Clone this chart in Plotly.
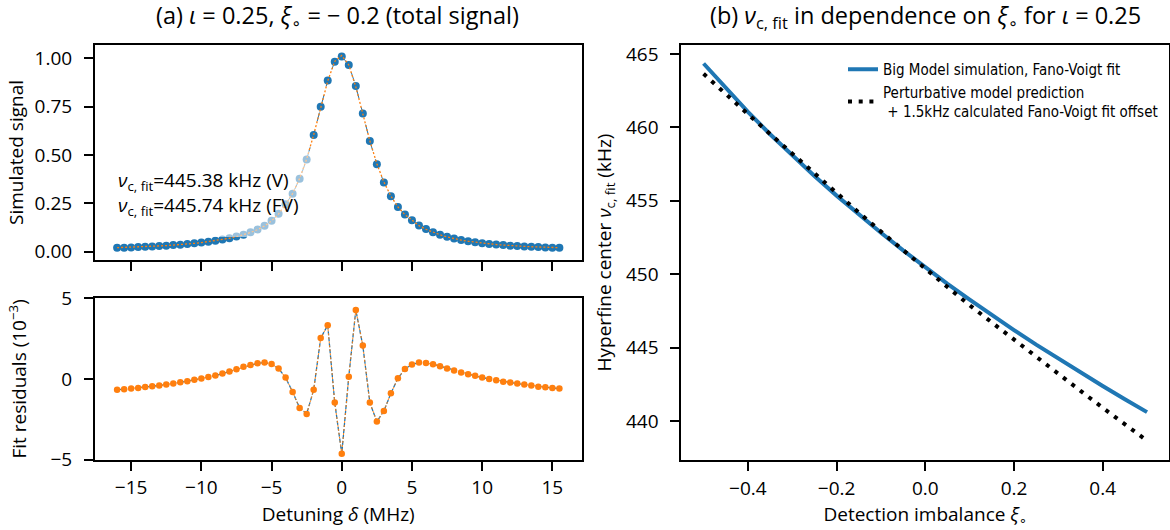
import plotly.graph_objects as go

# ---------------- data ----------------
detuning_MHz = [-16.0, -15.5, -15.0, -14.5, -14.0, -13.5, -13.0, -12.5, -12.0, -11.5,
                -11.0, -10.5, -10.0, -9.5, -9.0, -8.5, -8.0, -7.5, -7.0, -6.5,
                -6.0, -5.5, -5.0, -4.5, -4.0, -3.5, -3.0, -2.5, -2.0, -1.5,
                -1.0, -0.5, 0.0, 0.5, 1.0, 1.5, 2.0, 2.5, 3.0, 3.5,
                4.0, 4.5, 5.0, 5.5, 6.0, 6.5, 7.0, 7.5, 8.0, 8.5,
                9.0, 9.5, 10.0, 10.5, 11.0, 11.5, 12.0, 12.5, 13.0, 13.5,
                14.0, 14.5, 15.0, 15.5]

simulated_signal = [0.020, 0.021, 0.022, 0.024, 0.025, 0.027, 0.029, 0.031, 0.034, 0.036,
                    0.040, 0.043, 0.047, 0.052, 0.057, 0.063, 0.070, 0.078, 0.088, 0.100,
                    0.115, 0.134, 0.160, 0.196, 0.245, 0.300, 0.377, 0.477, 0.604, 0.750,
                    0.886, 0.983, 1.010, 0.966, 0.857, 0.715, 0.572, 0.452, 0.358, 0.287,
                    0.231, 0.192, 0.163, 0.136, 0.117, 0.101, 0.088, 0.077, 0.068, 0.060,
                    0.054, 0.049, 0.044, 0.040, 0.037, 0.034, 0.031, 0.029, 0.027, 0.025,
                    0.024, 0.022, 0.021, 0.020]

fit_residuals_e3 = [-0.68, -0.64, -0.60, -0.56, -0.50, -0.46, -0.41, -0.35, -0.29, -0.21,
                    -0.14, -0.06, 0.02, 0.12, 0.21, 0.33, 0.46, 0.60, 0.75, 0.87,
                    0.97, 1.01, 0.93, 0.64, 0.08, -0.81, -1.80, -2.17, -0.68, 2.53,
                    3.33, -1.47, -4.64, 0.14, 4.27, 2.07, -1.47, -2.65, -1.99, -0.89,
                    0.04, 0.62, 0.89, 1.01, 0.99, 0.91, 0.79, 0.64, 0.52, 0.39,
                    0.29, 0.19, 0.08, 0.00, -0.08, -0.17, -0.23, -0.29, -0.35, -0.41,
                    -0.48, -0.52, -0.56, -0.60]

# fitted curve = data - residual
fano_voigt_fit = [s - r * 1e-3 for s, r in zip(simulated_signal, fit_residuals_e3)]

imbalance = [-0.50, -0.45, -0.40, -0.35, -0.30, -0.25, -0.20, -0.15, -0.10, -0.05,
             0.00, 0.05, 0.10, 0.15, 0.20, 0.25, 0.30, 0.35, 0.40, 0.45, 0.50]

big_model_center_kHz = [464.35, 462.65, 461.05, 459.53, 458.08, 456.69, 455.35, 454.06,
                        452.82, 451.62, 450.46, 449.34, 448.26, 447.21, 446.19, 445.20,
                        444.24, 443.30, 442.38, 441.48, 440.60]

perturbative_center_kHz = [463.65, 462.25, 460.90, 459.55, 458.20, 456.85, 455.52, 454.20,
                           452.90, 451.62, 450.38, 449.12, 447.88, 446.70, 445.55, 444.38,
                           443.20, 442.05, 440.90, 439.77, 438.65]

legend_labels = ["Big Model simulation, Fano-Voigt fit",
                 "Perturbative model prediction<br> + 1.5kHz calculated Fano-Voigt fit offset"]

BLUE = "#1f77b4"
ORANGE = "#ff7f0e"
FONT = "Open Sans, Lato, DejaVu Sans, sans-serif"
NARROW = "Liberation Sans Narrow, DejaVu Sans Condensed, Open Sans, sans-serif"
TICK = 19
LAB = 19
TITLE = 23.5

W, H = 1170, 530
def fx(p):
    return p / W
def fy(p):
    return 1 - p / H

fig = go.Figure()

# (a) top: simulated signal
fig.add_trace(go.Scatter(x=detuning_MHz, y=simulated_signal, mode="lines+markers",
                         line=dict(color=BLUE, width=1, dash="dash"),
                         marker=dict(color=BLUE, size=8),
                         xaxis="x", yaxis="y", showlegend=False))
fig.add_trace(go.Scatter(x=detuning_MHz, y=fano_voigt_fit, mode="lines",
                         line=dict(color=ORANGE, width=1.3, dash="2px,2px"),
                         xaxis="x", yaxis="y", showlegend=False))

# (a) bottom: residuals
fig.add_trace(go.Scatter(x=detuning_MHz, y=fit_residuals_e3, mode="lines",
                         line=dict(color=BLUE, width=1.3, dash="4px,2px"),
                         xaxis="x2", yaxis="y2", showlegend=False))
fig.add_trace(go.Scatter(x=detuning_MHz, y=fit_residuals_e3, mode="lines+markers",
                         line=dict(color=ORANGE, width=1, dash="2px,2px"),
                         marker=dict(color=ORANGE, size=6.5),
                         xaxis="x2", yaxis="y2", showlegend=False))

# (b)
fig.add_trace(go.Scatter(x=imbalance, y=big_model_center_kHz, mode="lines",
                         line=dict(color=BLUE, width=4),
                         name=legend_labels[0], xaxis="x3", yaxis="y3"))
fig.add_trace(go.Scatter(x=imbalance, y=perturbative_center_kHz, mode="lines",
                         line=dict(color="black", width=4, dash="4px,6.7px"),
                         name=legend_labels[1], xaxis="x3", yaxis="y3"))

axis_common = dict(showline=True, linecolor="black", linewidth=2, mirror=True,
                   ticks="outside", ticklen=9, tickwidth=2, tickcolor="black",
                   showgrid=False, zeroline=False, automargin=False,
                   tickfont=dict(family=FONT, size=TICK, color="black"))

left_dom = [fx(95), fx(581.5)]
xr = [-17.575, 17.075]
xt = [-15, -10, -5, 0, 5, 10, 15]
xtt = ["\u221215", "\u221210", "\u22125", "0", "5", "10", "15"]

fig.update_layout(
    width=W, height=H, margin=dict(l=0, r=0, t=0, b=0, pad=0, autoexpand=False),
    paper_bgcolor="white", plot_bgcolor="white",
    font=dict(family=FONT, size=LAB, color="black"),
    xaxis=dict(axis_common, domain=left_dom, range=xr, anchor="y",
               tickvals=xt, showticklabels=False),
    yaxis=dict(axis_common, domain=[fy(260), fy(45)], range=[-0.043, 1.069], anchor="x",
               tickvals=[0, 0.25, 0.5, 0.75, 1.0],
               ticktext=["0.00", "0.25", "0.50", "0.75", "1.00"],
               ticklabelstandoff=8,
               title=dict(text="Simulated signal", standoff=6,
                          font=dict(family=FONT, size=LAB))),
    xaxis2=dict(axis_common, domain=left_dom, range=xr, anchor="y2",
                tickvals=xt, ticktext=xtt, ticklabelstandoff=1,
                title=dict(text="Detuning <i>\u03b4</i> (MHz)", standoff=8,
                           font=dict(family=FONT, size=LAB))),
    yaxis2=dict(axis_common, domain=[fy(459.5), fy(298.3)], range=[-5, 5], anchor="x2",
                tickvals=[-5, 0, 5], ticktext=["\u22125", "0", "5"],
                ticklabelstandoff=8,
                title=dict(text="Fit residuals (10<sup>\u22123</sup>)", standoff=19,
                           font=dict(family=FONT, size=LAB))),
    xaxis3=dict(axis_common, domain=[fx(681.4), fx(1169.2)], range=[-0.55, 0.55], anchor="y3",
                tickvals=[-0.4, -0.2, 0.0, 0.2, 0.4],
                ticktext=["\u22120.4", "\u22120.2", "0.0", "0.2", "0.4"],
                ticklabelstandoff=1,
                title=dict(text="Detection imbalance <i>\u03be</i><sub>\u2218</sub>", standoff=8,
                           font=dict(family=FONT, size=LAB))),
    yaxis3=dict(axis_common, domain=[fy(460), fy(45)], range=[437.34, 465.61], anchor="x3",
                tickvals=[440, 445, 450, 455, 460, 465],
                ticklabelstandoff=8,
                title=dict(text="Hyperfine center <i>\u03bd</i><sub>c, fit</sub> (kHz)", standoff=9,
                           font=dict(family=FONT, size=LAB))),
    legend=dict(x=fx(843), y=fy(53), xanchor="left", yanchor="top",
                bgcolor="rgba(255,255,255,0)", borderwidth=0,
                font=dict(family=NARROW, size=15, color="black"),
                itemwidth=30, tracegroupgap=6),
)

# semi-transparent box behind the annotation (fades the points below it)
fig.add_shape(type="rect", xref="x", yref="y", x0=-16.4, x1=-2.1, y0=0.076, y1=0.52,
              fillcolor="white", opacity=0.55, line=dict(width=0), layer="above")

fig.add_annotation(xref="x", yref="y", x=-16.1, y=0.303, xanchor="left", yanchor="middle",
                   align="left", showarrow=False,
                   text="<i>\u03bd</i><sub>c, fit</sub>=445.38 kHz (V)<br>"
                        "<i>\u03bd</i><sub>c, fit</sub>=445.74 kHz (FV)",
                   font=dict(family=FONT, size=19, color="black"))

# panel titles
fig.add_annotation(xref="paper", yref="paper", x=fx(338), y=fy(17), xanchor="center",
                   yanchor="middle", showarrow=False,
                   text="(a) <i>\u03b9</i> = 0.25, <i>\u03be</i><sub>\u2218</sub> = \u2212 0.2 (total signal)",
                   font=dict(family=FONT, size=TITLE, color="black"))
fig.add_annotation(xref="paper", yref="paper", x=fx(925), y=fy(17), xanchor="center",
                   yanchor="middle", showarrow=False,
                   text="(b) <i>\u03bd</i><sub>c, fit</sub> in dependence on "
                        "<i>\u03be</i><sub>\u2218</sub> for <i>\u03b9</i> = 0.25",
                   font=dict(family=FONT, size=TITLE, color="black"))

fig.write_html("out.html")
